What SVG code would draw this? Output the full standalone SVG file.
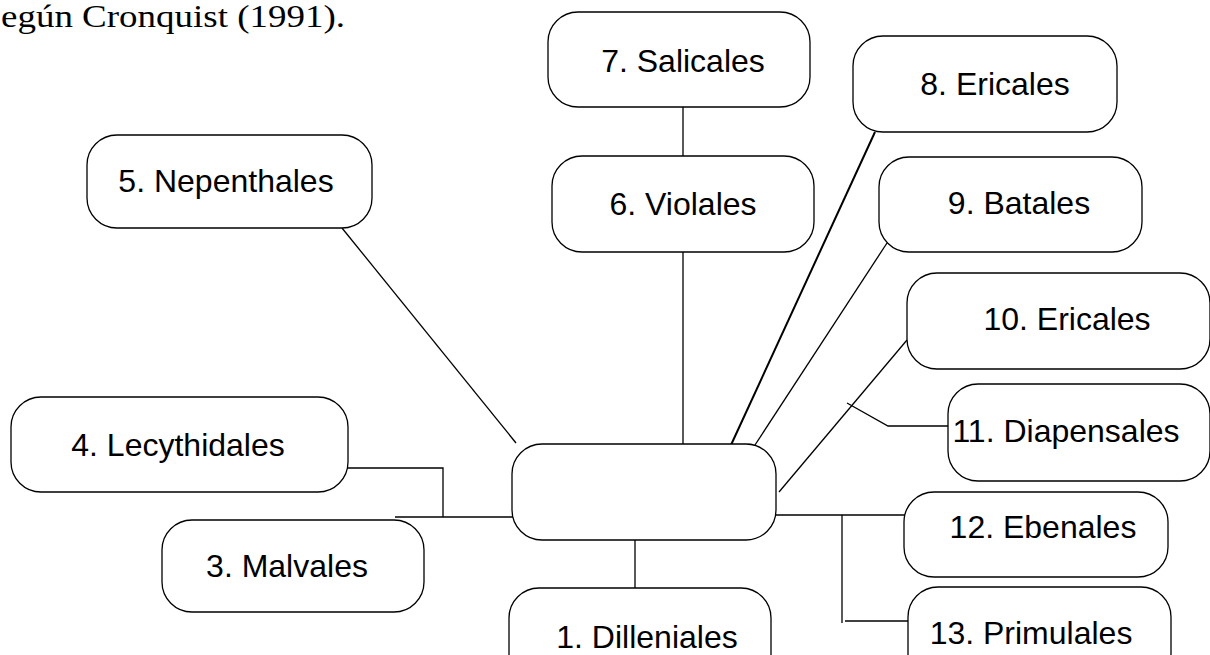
<svg xmlns="http://www.w3.org/2000/svg" width="1210" height="655" viewBox="0 0 1210 655">
<style>
.box{fill:#fff;stroke:#000;stroke-width:1.3}
.lbl{font-family:"Liberation Sans",Arial,sans-serif;font-size:32px;fill:#000;text-anchor:middle}
.ln{stroke:#000;stroke-width:1.3;fill:none}
.title{font-family:"Liberation Serif","Times New Roman",serif;font-size:31px;fill:#000}
</style>
<rect width="1210" height="655" fill="#fff"/>
<text class="title" x="1" y="27" textLength="344" lengthAdjust="spacingAndGlyphs">egún Cronquist (1991).</text>
<g id="connectors">
<line class="ln" x1="683" y1="107" x2="683" y2="156"/>
<line class="ln" x1="683" y1="252" x2="683" y2="445"/>
<line class="ln" x1="875" y1="132" x2="731" y2="445" style="stroke-width:2"/>
<line class="ln" x1="887" y1="243" x2="755" y2="445"/>
<line class="ln" x1="907" y1="340" x2="779" y2="492"/>
<polyline class="ln" points="847,403 888,426 955,426"/>
<line class="ln" x1="342" y1="228" x2="516" y2="443"/>
<polyline class="ln" points="345,468 443,468 443,517"/>
<line class="ln" x1="395" y1="517" x2="516" y2="517"/>
<line class="ln" x1="635" y1="540" x2="635" y2="589"/>
<line class="ln" x1="770" y1="515" x2="905" y2="515"/>
<line class="ln" x1="842" y1="515" x2="842" y2="623"/>
<line class="ln" x1="845" y1="621" x2="933" y2="621"/>
</g>
<g id="n7"><rect class="box" x="548" y="12" width="262" height="95" rx="30"/><text class="lbl" x="683" y="72">7. Salicales</text></g>
<g id="n6"><rect class="box" x="552" y="156" width="262" height="96" rx="30"/><text class="lbl" x="683" y="215">6. Violales</text></g>
<g id="n8"><rect class="box" x="853" y="36" width="264" height="96" rx="30"/><text class="lbl" x="995" y="95">8. Ericales</text></g>
<g id="n9"><rect class="box" x="879" y="157" width="263" height="95" rx="30"/><text class="lbl" x="1019" y="214">9. Batales</text></g>
<g id="n10"><rect class="box" x="907" y="273" width="303" height="96" rx="30"/><text class="lbl" x="1067" y="330">10. Ericales</text></g>
<g id="n11"><rect class="box" x="948" y="384" width="262" height="97" rx="30"/><text class="lbl" x="1066" y="442">11. Diapensales</text></g>
<g id="n2"><rect class="box" x="512" y="444" width="264" height="96" rx="30"/></g>
<g id="n12"><rect class="box" x="904" y="492" width="264" height="85" rx="30"/><text class="lbl" x="1043" y="538">12. Ebenales</text></g>
<g id="n13"><rect class="box" x="908" y="587" width="263" height="96" rx="30"/><text class="lbl" x="1031" y="644">13. Primulales</text></g>
<g id="n1"><rect class="box" x="509" y="588" width="262" height="96" rx="30"/><text class="lbl" x="647" y="648">1. Dilleniales</text></g>
<g id="n5"><rect class="box" x="87" y="135" width="285" height="93" rx="30"/><text class="lbl" x="226" y="192">5. Nepenthales</text></g>
<g id="n4"><rect class="box" x="11" y="397" width="337" height="95" rx="30"/><text class="lbl" x="178" y="456">4. Lecythidales</text></g>
<g id="n3"><rect class="box" x="162" y="520" width="262" height="92" rx="30"/><text class="lbl" x="287" y="577">3. Malvales</text></g>
</svg>
